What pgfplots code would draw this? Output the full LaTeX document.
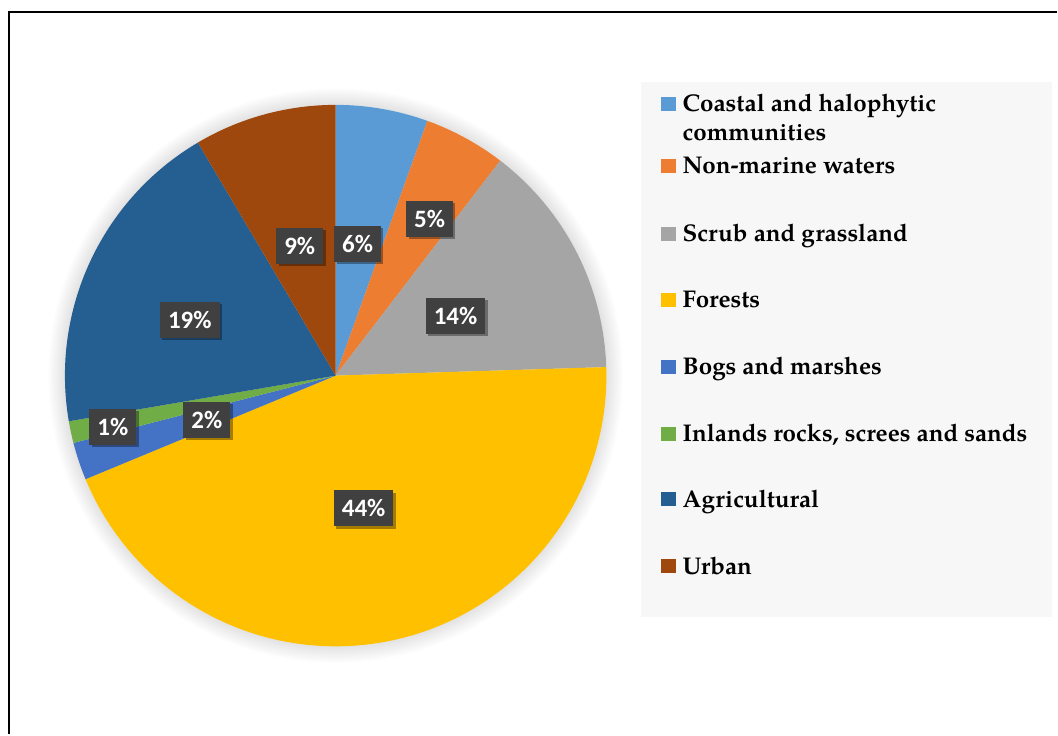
\documentclass[border=0pt]{standalone}
\usepackage{pgfplots}
\pgfplotsset{compat=1.18}
\usepackage{pgfplotstable}
\usepackage{fontspec}
\usetikzlibrary{shadows}
\newfontfamily\legfont{texgyrepagella-bold.otf}
\newfontfamily\labfont{Carlito}[BoldFont=* Bold]

\definecolor{s0}{HTML}{5B9BD5}
\definecolor{s1}{HTML}{ED7D31}
\definecolor{s2}{HTML}{A5A5A5}
\definecolor{s3}{HTML}{FFC000}
\definecolor{s4}{HTML}{4472C4}
\definecolor{s5}{HTML}{70AD47}
\definecolor{s6}{HTML}{255E91}
\definecolor{s7}{HTML}{9E480E}
\definecolor{lblbg}{HTML}{404040}
\definecolor{legbg}{HTML}{F7F7F7}

% value (percent of the whole), rounded label, label centre (px)
\pgfplotstableread{
value pct lx ly
5.5   6  358 244
4.9   5  430 219
14.1  14 456 316
44.25 44 364 509
2.25  2  207 420
1.3   1  113 427
19.2  19 190 320
8.5   9  300 246
}\piedata

\newcommand\gv[2]{\csname #1#2\endcsname}

\begin{document}
\begin{tikzpicture}
\xdef\cum{0}
\foreach \i in {0,...,7}{%
  \pgfplotstablegetelem{\i}{value}\of\piedata
  \pgfmathsetmacro\a{90-3.6*\cum}%
  \pgfmathsetmacro\newcum{\cum+\pgfplotsretval}%
  \pgfmathsetmacro\b{90-3.6*\newcum}%
  \expandafter\xdef\csname sa\i\endcsname{\a}%
  \expandafter\xdef\csname sb\i\endcsname{\b}%
  \xdef\cum{\newcum}%
  \pgfplotstablegetelem{\i}{pct}\of\piedata
  \expandafter\xdef\csname sp\i\endcsname{\pgfplotsretval}%
  \pgfplotstablegetelem{\i}{lx}\of\piedata
  \expandafter\xdef\csname sx\i\endcsname{\pgfplotsretval}%
  \pgfplotstablegetelem{\i}{ly}\of\piedata
  \pgfmathsetmacro\yy{735-\pgfplotsretval}%
  \expandafter\xdef\csname sy\i\endcsname{\yy}%
}
\begin{axis}[
  scale only axis, width=529pt, height=367.5pt,
  xmin=0, xmax=1058, ymin=0, ymax=735,
  hide axis, clip=false,
]
\path (axis cs:0,0) rectangle (axis cs:1058,735);
% frame
\draw[line width=1.1pt] (axis cs:9,0) -- (axis cs:9,723) -- (axis cs:1058,723);
% legend background
\fill[legbg] (axis cs:642,117) rectangle (axis cs:1053,653);
% soft shadow around the pie
\pgfplotsinvokeforeach{1,...,14}{
  \fill[black, opacity=0.009] (axis cs:336,359) circle[radius={135.5pt+#1*0.6pt}];
}
% slices
\pgfplotsinvokeforeach{0,...,7}{
  \fill[s#1] (axis cs:336,359) -- +(\gv{sa}{#1}:135.5pt) arc[start angle=\gv{sa}{#1}, end angle=\gv{sb}{#1}, radius=135.5pt] -- cycle;
}
% data labels
\pgfplotsinvokeforeach{0,...,7}{
  \node[fill=lblbg, text=white, font=\labfont\bfseries\fontsize{12.5}{14}\selectfont,
        inner xsep=4pt, minimum height=18pt,
        drop shadow={shadow xshift=1.2pt, shadow yshift=-1.2pt, opacity=0.35, fill=black}]
    at (axis cs:\gv{sx}{#1},\gv{sy}{#1}) {\gv{sp}{#1}\%};
}
% legend
\def\legtext{\legfont\fontsize{12.1}{14}\selectfont}
\fill[s0] (axis cs:662,624) rectangle (axis cs:677,638);
\node[anchor=base west, inner sep=0pt, font=\legtext] at (axis cs:683,623) {Coastal and halophytic};
\node[anchor=base west, inner sep=0pt, font=\legtext] at (axis cs:683,594) {communities};
\fill[s1] (axis cs:662,562) rectangle (axis cs:677,576);
\node[anchor=base west, inner sep=0pt, font=\legtext] at (axis cs:683,561) {Non-marine waters};
\fill[s2] (axis cs:662,494) rectangle (axis cs:677,508);
\node[anchor=base west, inner sep=0pt, font=\legtext] at (axis cs:683,493) {Scrub and grassland};
\fill[s3] (axis cs:662,428) rectangle (axis cs:677,442);
\node[anchor=base west, inner sep=0pt, font=\legtext] at (axis cs:683,427) {Forests};
\fill[s4] (axis cs:662,361) rectangle (axis cs:677,375);
\node[anchor=base west, inner sep=0pt, font=\legtext] at (axis cs:683,360) {Bogs and marshes};
\fill[s5] (axis cs:662,294) rectangle (axis cs:677,308);
\node[anchor=base west, inner sep=0pt, font=\legtext] at (axis cs:683,293) {Inlands rocks, screes and sands};
\fill[s6] (axis cs:662,228) rectangle (axis cs:677,242);
\node[anchor=base west, inner sep=0pt, font=\legtext] at (axis cs:683,227) {Agricultural};
\fill[s7] (axis cs:662,161) rectangle (axis cs:677,175);
\node[anchor=base west, inner sep=0pt, font=\legtext] at (axis cs:683,160) {Urban};
\end{axis}
\end{tikzpicture}
\end{document}
